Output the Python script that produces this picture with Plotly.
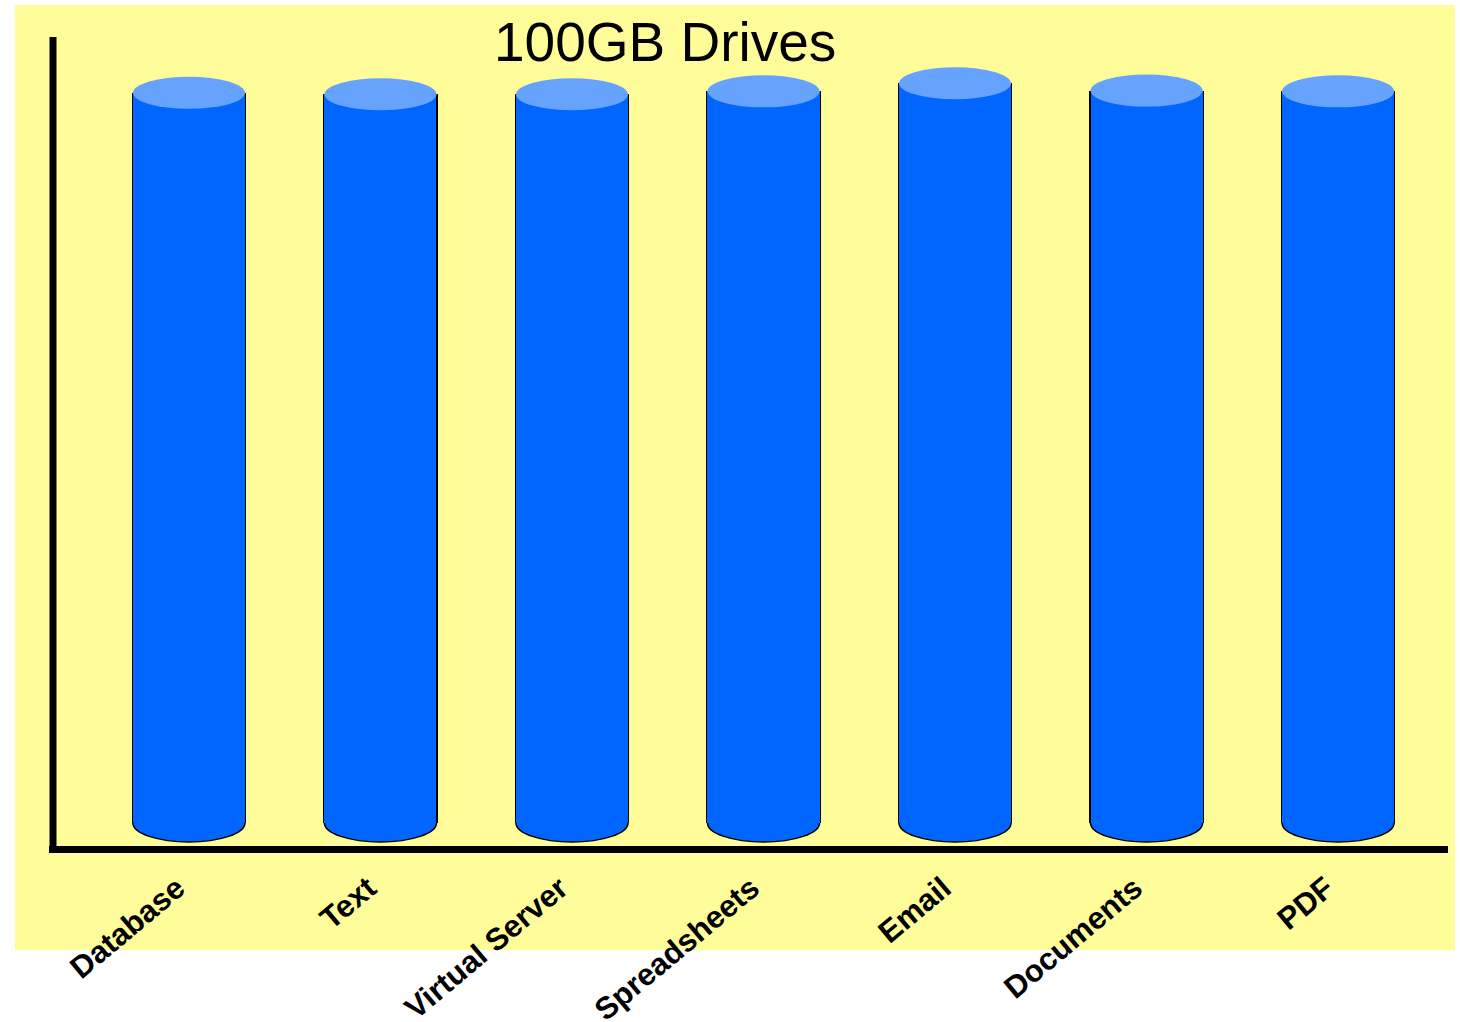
import plotly.graph_objects as go

# Drive categories and their filled capacity (GB)
categories = ["Database", "Text", "Virtual Server", "Spreadsheets", "Email", "Documents", "PDF"]
capacity_gb = [99.9, 99.7, 99.7, 100.1, 101.2, 100.2, 100.1]
title_text = "100GB Drives"

# Figure geometry (pixels)
W, H = 1460, 1022
ML, MR, MT, MB = 52, 12, 38, 172
plot_w = W - ML - MR
plot_h = H - MT - MB

x_range = [-0.715, 6.574]
y_range = [-3.7, 107.4]
bar_w = 0.585

body_color = "#0066FF"
top_color = "#66A3FF"
edge_color = "#000000"
panel_color = "#FFFD99"

positions = list(range(len(categories)))


def px_to_paper_x(px):
    return (px - ML) / plot_w


def px_to_paper_y(py):
    return (H - MB - py) / plot_h


fig = go.Figure()

# thin dark edge behind each cylinder body
fig.add_trace(go.Bar(
    x=positions, y=capacity_gb, width=bar_w + 0.012,
    marker=dict(color=edge_color, line=dict(width=0)),
    hoverinfo="skip", showlegend=False,
))
# cylinder bodies
fig.add_trace(go.Bar(
    x=positions, y=capacity_gb, width=bar_w,
    marker=dict(color=body_color, line=dict(width=0)),
    customdata=categories,
    hovertemplate="%{customdata}: %{y} GB<extra></extra>",
    showlegend=False,
))

shapes = []
# pale panel behind the chart
shapes.append(dict(
    type="rect", xref="paper", yref="paper", layer="below",
    x0=px_to_paper_x(15), x1=px_to_paper_x(1455),
    y0=px_to_paper_y(950), y1=px_to_paper_y(5),
    fillcolor=panel_color, line=dict(width=0),
))

for xi, v in zip(positions, capacity_gb):
    # rounded base of each cylinder (upper half hidden by the body)
    shapes.append(dict(
        type="circle", xref="x", yref="y", layer="below",
        x0=xi - bar_w / 2, x1=xi + bar_w / 2,
        ysizemode="pixel", yanchor=0, y0=-19, y1=19,
        fillcolor=body_color, line=dict(color=edge_color, width=1.5),
    ))
    # lid of each cylinder
    shapes.append(dict(
        type="circle", xref="x", yref="y", layer="above",
        x0=xi - bar_w / 2, x1=xi + bar_w / 2,
        ysizemode="pixel", yanchor=v, y0=-16, y1=16,
        fillcolor=top_color, line=dict(width=0),
    ))

# heavy L-shaped axes
shapes.append(dict(
    type="line", xref="paper", yref="paper", layer="above",
    x0=px_to_paper_x(53), x1=px_to_paper_x(53),
    y0=px_to_paper_y(37), y1=px_to_paper_y(853),
    line=dict(color="black", width=7),
))
shapes.append(dict(
    type="line", xref="paper", yref="paper", layer="above",
    x0=px_to_paper_x(49), x1=px_to_paper_x(1448),
    y0=px_to_paper_y(849.5), y1=px_to_paper_y(849.5),
    line=dict(color="black", width=7),
))

fig.update_layout(
    width=W, height=H,
    margin=dict(l=ML, r=MR, t=MT, b=MB, pad=0, autoexpand=False),
    paper_bgcolor="white",
    plot_bgcolor="rgba(0,0,0,0)",
    barmode="overlay",
    bargap=0,
    shapes=shapes,
    showlegend=False,
    annotations=[dict(
        text=title_text, xref="paper", yref="paper",
        x=px_to_paper_x(665), y=px_to_paper_y(42),
        xanchor="center", yanchor="middle", showarrow=False,
        font=dict(family="Liberation Sans, Arial, sans-serif", size=55, color="black"),
    )],
    xaxis=dict(
        range=x_range, tickmode="array", tickvals=positions, ticktext=categories,
        tickangle=-40, showgrid=False, zeroline=False, showline=False, ticks="",
        tickfont=dict(family="Liberation Sans, Arial, sans-serif", size=31,
                      color="black", weight="bold"),
        ticklabelstandoff=13, ticklabelshift=-12, automargin=False,
        fixedrange=True,
    ),
    yaxis=dict(
        range=y_range, showgrid=False, zeroline=False, showline=False,
        showticklabels=False, ticks="", fixedrange=True, automargin=False,
    ),
)

fig.write_html("out.html")
